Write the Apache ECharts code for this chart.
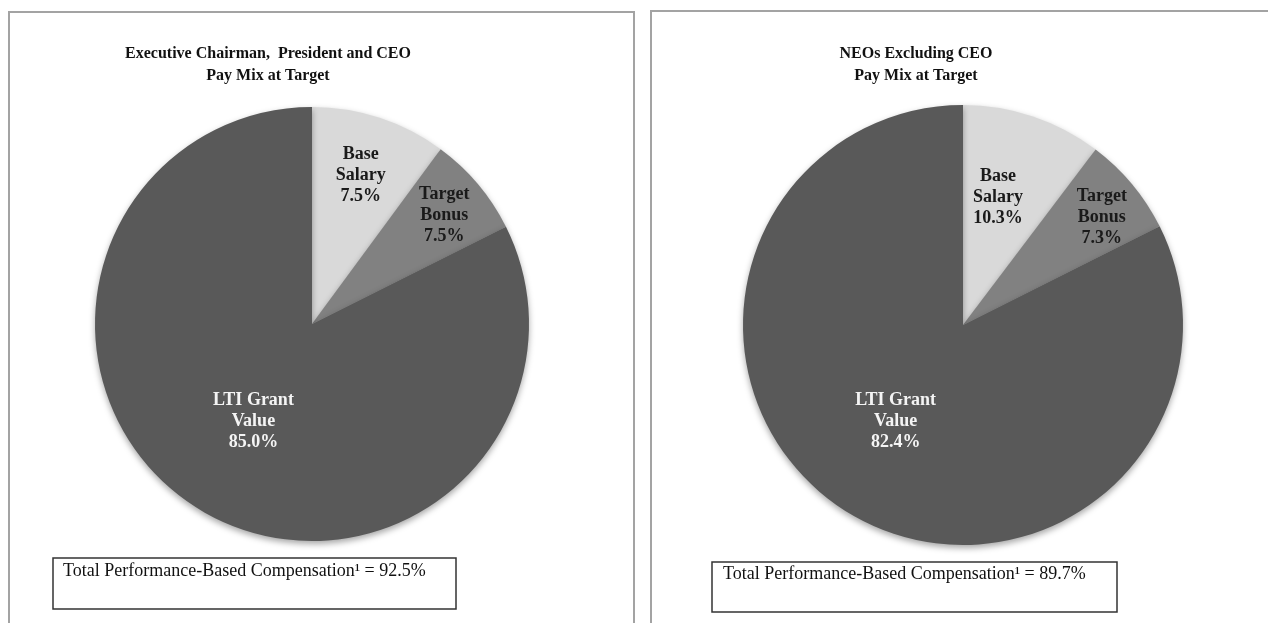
<!DOCTYPE html>
<html>
<head>
<meta charset="utf-8">
<script src="https://cdn.jsdelivr.net/npm/echarts@6/dist/echarts.min.js"></script>
<style>
html,body{margin:0;padding:0;background:#fff;}
#chart{width:1268px;height:623px;}
</style>
</head>
<body>
<div id="chart"></div>
<script>
// ---- data ----
const categories = ['Base Salary', 'Target Bonus', 'LTI Grant Value'];
const labelNames = ['Base\nSalary', 'Target\nBonus', 'LTI Grant\nValue'];
// slice sizes as drawn in the picture (%)
const ceoSlices = [10.1, 7.5, 82.4];
const neoSlices = [10.3, 7.3, 82.4];
// percentages printed on the labels
const ceoLabelPct = ['7.5%', '7.5%', '85.0%'];
const neoLabelPct = ['10.3%', '7.3%', '82.4%'];
const chartTitles = ['Executive Chairman,  President and CEO\nPay Mix at Target', 'NEOs Excluding CEO\nPay Mix at Target'];
const totalPerf = ['92.5%', '89.7%'];

// ---- styles ----
const sliceColors = ['#d9d9d9', '#818181', '#595959'];
const labelColors = ['#1a1a1a', '#1a1a1a', '#f4f4f4'];
const serif = "'Liberation Serif', 'DejaVu Serif', serif";

function buildData(slices, pcts) {
  return categories.map((c, i) => ({
    name: c,
    value: slices[i],
    itemStyle: { color: sliceColors[i] },
    label: { color: labelColors[i], formatter: labelNames[i] + '\n' + pcts[i] }
  }));
}

function pieSeries(center, radius, slices, pcts, offsets) {
  return {
    type: 'pie',
    center: center,
    radius: radius,
    startAngle: 90,
    clockwise: true,
    animation: false,
    silent: true,
    itemStyle: {
      borderWidth: 0,
      shadowBlur: 6,
      shadowOffsetY: 3,
      shadowColor: 'rgba(0,0,0,0.35)'
    },
    label: {
      show: true,
      position: 'inside',
      fontFamily: serif,
      fontWeight: 'bold',
      fontSize: 18,
      lineHeight: 21,
      align: 'center'
    },
    labelLine: { show: false },
    labelLayout: function (p) {
      const o = offsets[p.dataIndex];
      return { dx: o[0], dy: o[1] };
    },
    data: buildData(slices, pcts)
  };
}

const chart = echarts.init(document.getElementById('chart'), null, { renderer: 'canvas' });

const option = {
  backgroundColor: '#ffffff',
  animation: false,
  title: [
    {
      text: chartTitles[0],
      left: 263, top: 38, textAlign: 'center',
      textStyle: { fontFamily: serif, fontWeight: 'bold', fontSize: 16, lineHeight: 22, color: '#111' }
    },
    {
      text: chartTitles[1],
      left: 911, top: 38, textAlign: 'center',
      textStyle: { fontFamily: serif, fontWeight: 'bold', fontSize: 16, lineHeight: 22, color: '#111' }
    }
  ],
  graphic: [
    { type: 'rect', shape: { x: 9, y: 12, width: 625, height: 640 }, style: { fill: 'none', stroke: '#a3a3a3', lineWidth: 2 }, z: -1 },
    { type: 'rect', shape: { x: 651, y: 11, width: 660, height: 640 }, style: { fill: 'none', stroke: '#a3a3a3', lineWidth: 2 }, z: -1 },
    { type: 'rect', shape: { x: 53, y: 558, width: 403, height: 51 }, style: { fill: '#fff', stroke: '#333', lineWidth: 1.5 } },
    { type: 'rect', shape: { x: 712, y: 562, width: 405, height: 50 }, style: { fill: '#fff', stroke: '#333', lineWidth: 1.5 } },
    { type: 'text', x: 63, y: 571, style: { text: 'Total Performance-Based Compensation\u00b9 = ' + totalPerf[0], font: '18px ' + serif, fill: '#111', textVerticalAlign: 'middle' } },
    { type: 'text', x: 723, y: 574, style: { text: 'Total Performance-Based Compensation\u00b9 = ' + totalPerf[1], font: '18px ' + serif, fill: '#111', textVerticalAlign: 'middle' } }
  ],
  series: [
    pieSeries([312, 324], 217, ceoSlices, ceoLabelPct, [[14, -43], [47, -37], [0, 2]]),
    pieSeries([963, 325], 220, neoSlices, neoLabelPct, [[-1, -21], [52, -35], [-8, 0]])
  ]
};
chart.setOption(option);
</script>
</body>
</html>
